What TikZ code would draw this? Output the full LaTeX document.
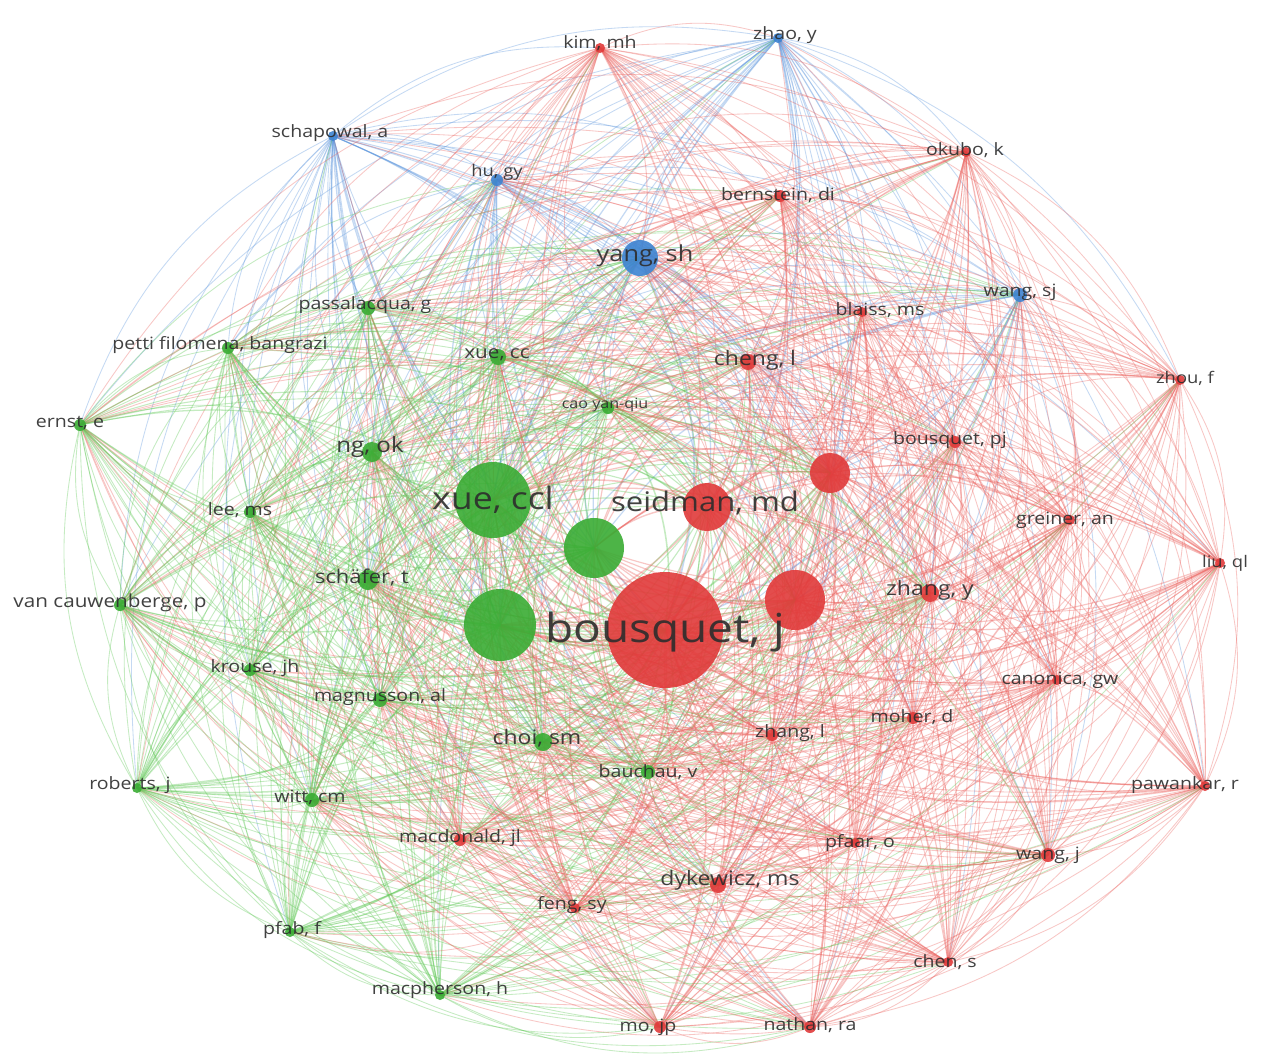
\documentclass[tikz,border=0pt]{standalone}
\usepackage{fontspec}
\setmainfont{Open Sans}
\usetikzlibrary{calc}
\pgfdeclarelayer{edges}
\pgfdeclarelayer{labels}
\pgfsetlayers{edges,main,labels}
\definecolor{nodeR}{RGB}{225,58,58}
\definecolor{nodeG}{RGB}{58,172,52}
\definecolor{nodeB}{RGB}{62,132,210}
\definecolor{edgeR}{RGB}{236,100,96}
\definecolor{edgeG}{RGB}{95,200,85}
\definecolor{edgeB}{RGB}{95,152,222}
\definecolor{labgray}{RGB}{45,45,45}
\tikzset{
  edge/.style={opacity=0.36},
  vnode/.style={circle, inner sep=0pt, minimum size=#1, draw=none},
  lab/.style={inner sep=0pt, text=labgray, text opacity=0.9},
}
\begin{document}
\begin{tikzpicture}[x=1pt,y=-1pt]
\useasboundingbox (0,0) rectangle (1265,1063);
\foreach \n/\x/\y/\c/\d/\lab/\lx/\ly/\fs in {
1/778/38/B/10/{zhao, y}/785/35/17,
2/333/136/B/10/{schapowal, a}/330/133/17,
3/497/180/B/12/{hu, gy}/497/172/16,
4/640/258/B/36/{yang, sh}/645/256/22,
5/1020/295/B/14/{wang, sj}/1020/292/17,
6/600/48/R/10/{kim, mh}/600/43/17,
7/966/152/R/10/{okubo, k}/965/150/17,
8/780/196/R/12/{bernstein, di}/778/195/17,
9/862/312/R/10/{blaiss, ms}/880/310/17,
10/748/362/R/16/{cheng, l}/755/360/20,
11/1180/380/R/10/{zhou, f}/1185/378/16,
12/955/442/R/12/{bousquet, pj}/950/440/17,
13/830/473/R/40/{}/0/0/0,
14/707/507/R/48/{seidman, md}/705/503/27,
15/1070/520/R/10/{greiner, an}/1065/520/17,
16/1220/563/R/10/{liu, ql}/1225/563/16,
17/795/600/R/60/{}/0/0/0,
18/930/593/R/18/{zhang, y}/930/590/20,
19/665/630/R/116/{bousquet, j}/665/632/40,
20/1057/680/R/10/{canonica, gw}/1060/680/17,
21/913/718/R/12/{moher, d}/912/717/17,
22/772/735/R/12/{zhang, l}/790/733/17,
23/1205/786/R/10/{pawankar, r}/1185/785/17,
24/855/843/R/10/{pfaar, o}/860/843/17,
25/1048/855/R/14/{wang, j}/1048/855/17,
26/460/840/R/12/{macdonald, jl}/460/838/17,
27/718/885/R/16/{dykewicz, ms}/730/880/20,
28/575/908/R/10/{feng, sy}/572/905/17,
29/948/962/R/10/{chen, s}/945/962/17,
30/660/1027/R/12/{mo, jp}/648/1027/17,
31/810/1027/R/12/{nathan, ra}/810/1025/17,
32/368/308/G/14/{passalacqua, g}/365/305/17,
33/228/348/G/12/{petti filomena, bangrazi}/220/345/17,
34/498/357/G/16/{xue, cc}/497/355/18,
35/608/408/G/12/{cao yan-qiu}/605/405/14,
36/80/425/G/12/{ernst, e}/70/423/17,
37/372/452/G/20/{ng, ok}/370/447/21,
38/493/500/G/76/{xue, ccl}/493/500/31,
39/594/548/G/60/{}/0/0/0,
40/250/512/G/12/{lee, ms}/240/510/17,
41/368/580/G/20/{schäfer, t}/362/577/19,
42/120/605/G/12/{van cauwenberge, p}/110/603/18,
43/500/625/G/72/{}/0/0/0,
44/250/670/G/12/{krouse, jh}/255/668/17,
45/380/700/G/14/{magnusson, al}/380/697/17,
46/543/742/G/18/{choi, sm}/537/738/20,
47/648/772/G/14/{bauchau, v}/648/772/17,
48/137/788/G/10/{roberts, j}/130/785/17,
49/312/800/G/14/{witt, cm}/310/797/17,
50/290/932/G/10/{pfab, f}/292/930/17,
51/440/995/G/10/{macpherson, h}/440/990/17}{
  \node[vnode=\d pt, fill=node\c, fill opacity=0.9] (n\n) at (\x,\y) {};
  \expandafter\xdef\csname px\n\endcsname{\x}
  \expandafter\xdef\csname py\n\endcsname{\y}
  \expandafter\xdef\csname pd\n\endcsname{\d}
  \expandafter\xdef\csname cl\n\endcsname{\c}
  \ifnum\fs>0
    \begin{pgfonlayer}{labels}
      \node[lab] (l\n) at (\lx,\ly) {\fontsize{\fs}{\fs}\selectfont\scalebox{1.15}[1]{\lab}};
    \end{pgfonlayer}
  \fi
}
\begin{pgfonlayer}{edges}
\fill[white] (0,0) rectangle (1265,1063);
\foreach \i in {1,...,50}{
  \pgfmathtruncatemacro\js{\i+1}
  \foreach \j in {\js,...,51}{
    \pgfmathsetmacro\crs{((\csname px\j\endcsname-\csname px\i\endcsname)/100)*((540-\csname py\i\endcsname)/100)-((\csname py\j\endcsname-\csname py\i\endcsname)/100)*((640-\csname px\i\endcsname)/100)}
    \pgfmathtruncatemacro\bnd{\crs>0 ? 22 : -22}
    \pgfmathtruncatemacro\nbnd{-\bnd}
    \pgfmathsetmacro\lw{0.7+(\csname pd\i\endcsname+\csname pd\j\endcsname)/150}
    \pgfmathtruncatemacro\pp{mod(\i+\j,2)}
    \ifnum\csname pd\i\endcsname<\csname pd\j\endcsname\relax
      \edef\ec{\csname cl\i\endcsname}%
    \else
      \ifnum\csname pd\i\endcsname>\csname pd\j\endcsname\relax
        \edef\ec{\csname cl\j\endcsname}%
      \else
        \ifnum\pp=0 \edef\ec{\csname cl\i\endcsname}\else\edef\ec{\csname cl\j\endcsname}\fi
      \fi
    \fi
    \draw[edge, draw=edge\ec, line width=\lw pt] (n\i.center) .. controls ($(n\i.center)!0.39!\bnd:(n\j.center)$) and ($(n\j.center)!0.39!\nbnd:(n\i.center)$) .. (n\j.center);
  }
}
\end{pgfonlayer}
\end{tikzpicture}
\end{document}
